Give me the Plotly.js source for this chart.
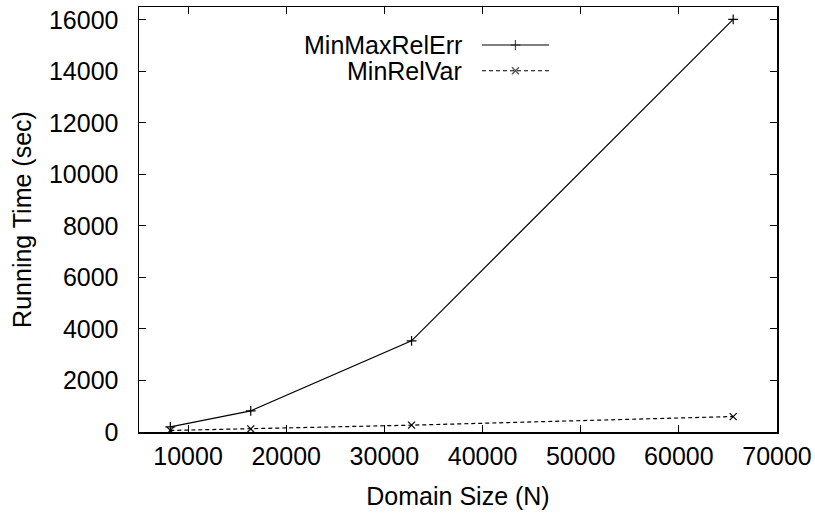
<!DOCTYPE html>
<html><head><meta charset="utf-8">
<script src="https://cdn.plot.ly/plotly-3.0.1.min.js"></script>
<style>html,body{margin:0;padding:0;background:#fff}</style>
</head><body>
<div id="chart" style="width:815px;height:514px"></div>
<script>
const domainSize = [8192, 16384, 32768, 65536];
const minMaxRelErr = [200, 820, 3540, 16020];
const minRelVar = [60, 120, 265, 600];
const seriesNames = ["MinMaxRelErr", "MinRelVar"];
const xTicks = [10000, 20000, 30000, 40000, 50000, 60000, 70000];
const yTicks = [0, 2000, 4000, 6000, 8000, 10000, 12000, 14000, 16000];

const FONT = "Liberation Sans, Arial, sans-serif";
const fs = 25;

// legend key geometry (layout decoration only)
const keyX = [0.5376, 0.590, 0.6426];
const keyY1 = 0.9106, keyY2 = 0.850;

const traces = [
  {x: domainSize, y: minMaxRelErr, mode: "lines+markers", name: seriesNames[0],
   line: {color: "#000", width: 1.2},
   marker: {symbol: "cross-thin-open", size: 7, color: "#000", line: {color: "#000", width: 1.2}}},
  {x: domainSize, y: minRelVar, mode: "lines+markers", name: seriesNames[1],
   line: {color: "#000", width: 1.2, dash: "4px,3px"},
   marker: {symbol: "x-thin-open", size: 7, color: "#000", line: {color: "#000", width: 1.2}}},
  {x: keyX, y: [keyY1, keyY1, keyY1], xaxis: "x2", yaxis: "y2", mode: "lines+markers",
   line: {color: "#000", width: 1.2}, showlegend: false, hoverinfo: "skip",
   marker: {symbol: "cross-thin-open", size: [0, 7, 0], color: "#000", line: {color: "#000", width: 1.2}}},
  {x: keyX, y: [keyY2, keyY2, keyY2], xaxis: "x2", yaxis: "y2", mode: "lines+markers",
   line: {color: "#000", width: 1.2, dash: "4px,3px"}, showlegend: false, hoverinfo: "skip",
   marker: {symbol: "x-thin-open", size: [0, 7, 0], color: "#000", line: {color: "#000", width: 1.2}}}
];

const axisCommon = {
  showgrid: false, zeroline: false, showline: true, linecolor: "#000", linewidth: 1.5,
  mirror: "ticks", ticks: "inside", ticklen: 7, tickwidth: 1, tickcolor: "#000",
  tickfont: {family: FONT, size: fs, color: "#000"}
};

const layout = {
  width: 815, height: 514,
  margin: {l: 139, r: 38, t: 7, b: 82},
  paper_bgcolor: "#fff", plot_bgcolor: "#fff",
  showlegend: false,
  font: {family: FONT, size: fs, color: "#000"},
  xaxis: Object.assign({}, axisCommon, {
    range: [5000, 70000], tickvals: xTicks, ticktext: xTicks.map(String),
    ticklabelstandoff: 1,
    title: {text: "Domain Size (N)", font: {family: FONT, size: fs, color: "#000"}, standoff: 19}
  }),
  yaxis: Object.assign({}, axisCommon, {
    range: [0, 16500], tickvals: yTicks, ticktext: yTicks.map(String),
    ticklabelstandoff: 14,
    title: {text: "Running Time (sec)", font: {family: FONT, size: fs, color: "#000"}, standoff: 10}
  }),
  xaxis2: {overlaying: "x", range: [0, 1], visible: false, fixedrange: true},
  yaxis2: {overlaying: "y", range: [0, 1], visible: false, fixedrange: true},
  annotations: [
    {text: seriesNames[0], xref: "paper", yref: "paper", x: 0.509, y: keyY1, xanchor: "right", yanchor: "middle", showarrow: false, font: {family: FONT, size: fs, color: "#000"}},
    {text: seriesNames[1], xref: "paper", yref: "paper", x: 0.509, y: keyY2, xanchor: "right", yanchor: "middle", showarrow: false, font: {family: FONT, size: fs, color: "#000"}}
  ]
};

Plotly.newPlot("chart", traces, layout, {staticPlot: true, displayModeBar: false});
</script>
</body></html>
